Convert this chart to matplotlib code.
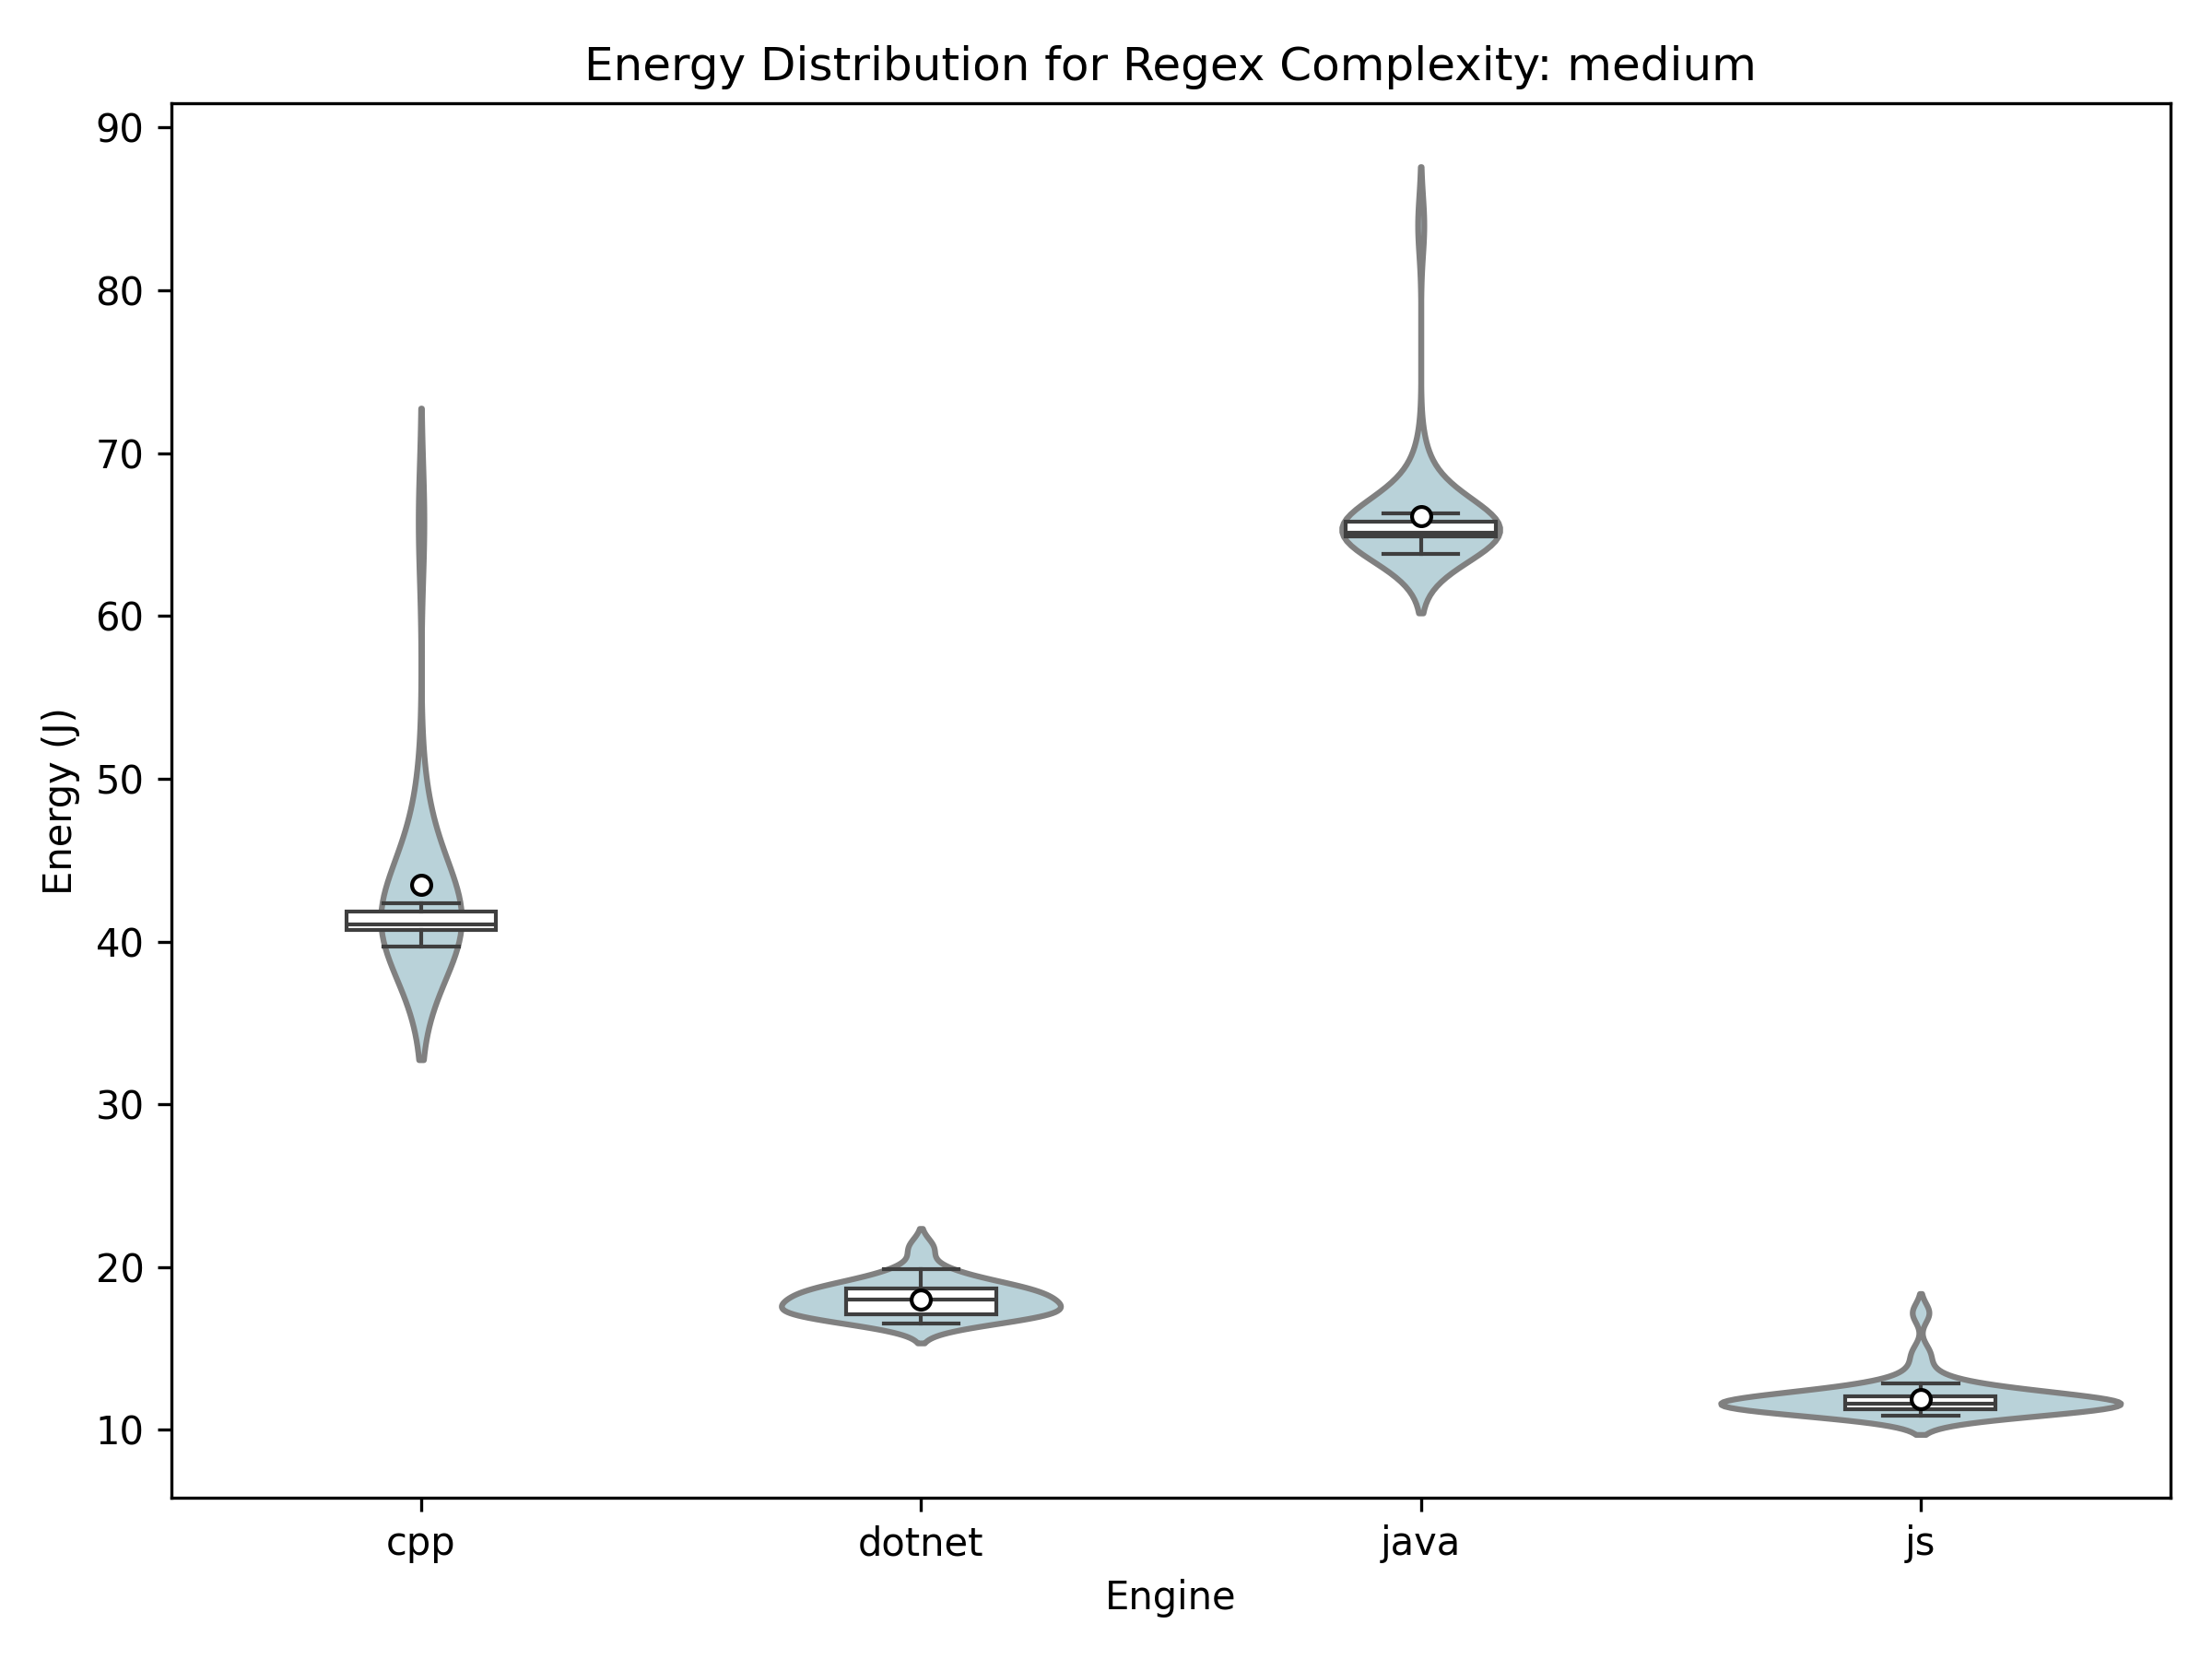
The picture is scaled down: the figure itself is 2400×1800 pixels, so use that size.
import numpy as np
import matplotlib
matplotlib.use("Agg")
from matplotlib import pyplot as plt
from matplotlib import mlab

ENGINES = ["cpp", "dotnet", "java", "js"]

# energy samples per engine (J), estimated from the violin outlines
cpp_energy = [39.71, 40.2, 40.6, 40.75, 40.85, 40.95, 41.05, 41.1, 41.25, 41.45,
              41.7, 41.85, 42.1, 42.37, 46.0, 47.5, 65.8]
dotnet_energy = [16.52, 16.7, 16.85, 17.0, 17.1, 17.15, 17.25, 17.35, 17.45, 17.55,
                 17.7, 17.9, 18.0, 18.1, 18.25, 18.4, 18.55, 18.65, 18.7, 18.85,
                 19.1, 19.4, 19.9, 21.2]
java_energy = [63.79, 64.2, 64.5, 64.7, 64.8, 64.87, 64.92, 64.97, 65.0, 65.03,
               65.06, 65.09, 65.09, 65.12, 65.18, 65.25, 65.35, 65.45, 65.55, 65.65,
               65.75, 65.8, 65.9, 66.0, 66.15, 66.33, 67.4, 68.2, 69.5, 84.0]
js_energy = [10.90, 11.00, 11.08, 11.15, 11.20, 11.25, 11.28, 11.32, 11.36, 11.40,
             11.44, 11.48, 11.52, 11.56, 11.60, 11.60, 11.64, 11.68, 11.72, 11.78,
             11.84, 11.90, 11.96, 12.02, 12.09, 12.15, 12.25, 12.35, 12.50, 12.65,
             12.88, 13.6, 14.7, 17.2]

# box statistics
box_q1 = [40.73, 17.13, 64.87, 11.28]
box_med = [41.07, 18.01, 65.09, 11.60]
box_q3 = [41.83, 18.67, 65.77, 12.09]
whisker_lo = [39.71, 16.52, 63.79, 10.90]
whisker_hi = [42.37, 19.90, 66.33, 12.88]
box_mean = [43.47, 18.01, 66.15, 11.90]

VIOLIN_FILL = "#b9d2d9"
VIOLIN_EDGE = "#808080"
BOX_LINE = "#3f3f3f"


def violin_stats(samples, cut=2, gridsize=100):
    samples = np.asarray(samples, dtype=float)
    kde = mlab.GaussianKDE(samples, "scott")
    bw = np.sqrt(kde.covariance[0, 0])
    coords = np.linspace(samples.min() - cut * bw, samples.max() + cut * bw, gridsize)
    return dict(coords=coords, vals=kde.evaluate(coords), mean=samples.mean(),
                median=np.median(samples), min=samples.min(), max=samples.max())


def draw_violins(ax, datasets, width=0.8):
    stats = [violin_stats(d) for d in datasets]
    peak = max(s["vals"].max() for s in stats)
    # same area for each violin, like seaborn's default
    widths = [width * s["vals"].max() / peak for s in stats]
    parts = ax.violin(stats, positions=range(len(stats)), widths=widths,
                      showmeans=False, showextrema=False, showmedians=False)
    for body in parts["bodies"]:
        body.set_facecolor(VIOLIN_FILL)
        body.set_edgecolor(VIOLIN_EDGE)
        body.set_linewidth(1.5)
        body.set_alpha(1)


def draw_boxes(ax):
    stats = []
    for i in range(len(ENGINES)):
        stats.append(dict(q1=box_q1[i], med=box_med[i], q3=box_q3[i],
                          whislo=whisker_lo[i], whishi=whisker_hi[i],
                          mean=box_mean[i]))
    line = dict(color=BOX_LINE, linewidth=1)
    ax.bxp(stats, positions=range(len(stats)), widths=0.3, patch_artist=True,
           showmeans=True, showfliers=False, manage_ticks=False,
           boxprops=dict(facecolor="white", edgecolor=BOX_LINE, linewidth=1),
           whiskerprops=line, capprops=line, medianprops=line,
           meanprops=dict(marker="o", markerfacecolor="white",
                          markeredgecolor="black", markersize=5))


fig, ax = plt.subplots(figsize=(8, 6))
draw_violins(ax, [cpp_energy, dotnet_energy, java_energy, js_energy])
draw_boxes(ax)

ax.set_xlim(-0.5, len(ENGINES) - 0.5)
ax.set_xticks(range(len(ENGINES)), ENGINES)
ax.set_title("Energy Distribution for Regex Complexity: medium")
ax.set_xlabel("Engine")
ax.set_ylabel("Energy (J)")

plt.tight_layout()
plt.savefig("out.png", dpi=300)
